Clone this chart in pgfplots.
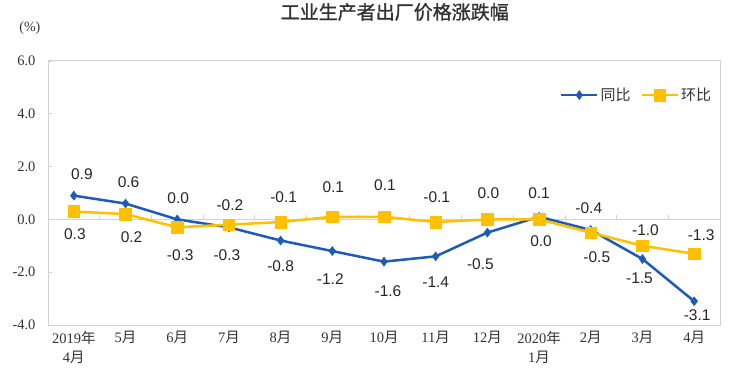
\documentclass[border=0pt]{standalone}
\usepackage{fontspec}
\setmainfont{Liberation Serif}
\newfontfamily\cjk{Noto Sans CJK SC}
\newfontfamily\cjkt{Noto Sans CJK SC}[FakeBold=1.2]
\newfontfamily\lab{Liberation Sans}
\usepackage{pgfplots}
\usepackage{pgfplotstable}
\pgfplotsset{compat=1.18}
\definecolor{blueline}{RGB}{28,92,184}
\definecolor{yelline}{RGB}{255,192,0}
\definecolor{frame}{RGB}{210,210,210}
\newcommand{\Y}{{\cjk 年}}
\newcommand{\M}{{\cjk 月}}
\pgfplotstableread{
x yoy ydy ydx mom mdy mdx
0 0.9 21 8 0.3 -23 1
1 0.6 21 3 0.2 -23 6
2 0.0 21 1 -0.3 -28 3
3 -0.3 -28 -2 -0.2 20 1
4 -0.8 -26 0 -0.1 25 3
5 -1.2 -28 -2 0.1 30 1
6 -1.6 -30 4 0.1 32 1
7 -1.4 -26 0 -0.1 25 1
8 -0.5 -32 -7 0.0 26 1
9 0.1 24 0 0.0 -22 2
10 -0.4 22 -2 -0.5 -25 6
11 -1.5 -19 -3 -1.0 16 3
12 -3.1 -14 3 -1.3 19 7
}\data
\begin{document}
\begin{tikzpicture}
\useasboundingbox (0,0) rectangle (733pt,378pt);
\begin{axis}[
  at={(48pt,53pt)}, anchor=south west,
  scale only axis, width=672pt, height=264pt,
  xmin=-0.5, xmax=12.5, ymin=-4, ymax=6,
  ytick={-4,-2,0,2,4,6},
  xtick={0,...,12},
  xticklabels={2019\Y\\4\M, 5\M, 6\M, 7\M, 8\M, 9\M, 10\M, 11\M, 12\M, 2020\Y\\1\M, 2\M, 3\M, 4\M},
  xticklabel style={align=center, font=\fontsize{14.5}{19}\selectfont, text=black!80, yshift=-3pt},
  yticklabel style={font=\fontsize{14.5}{16}\selectfont, text=black!80, xshift=-9pt},
  /pgf/number format/.cd, fixed, precision=1, zerofill, assume math mode=true, /pgfplots/.cd,
  axis line style={frame, line width=1pt},
  xtick style={draw=none},
  ytick style={frame, line width=0.8pt},
  tick pos=left, tick align=inside, major tick length=4pt,
  extra y ticks={0}, extra y tick labels={},
  extra y tick style={grid=major, major grid style={frame, line width=1.4pt}},
  ylabel={(\%)},
  ylabel style={rotate=-90, at={(rel axis cs:-0.027,1.125)}, anchor=center, font=\fontsize{14}{16}\selectfont, text=black!80},
  title={\cjkt 工业生产者出厂价格涨跌幅},
  title style={at={(0.516,1.163)}, anchor=center, font=\fontsize{19}{22}\selectfont, text=black!80},
  clip=false,
  legend style={at={(0.99,0.871)}, anchor=east, draw=none, fill=none, font=\fontsize{15}{17}\selectfont\cjk, text=black!80,
    /tikz/every even column/.append style={column sep=8pt}, inner sep=0pt, nodes={inner sep=2pt}},
  legend columns=2,
  legend image code/.code={\draw[mark repeat=2,mark phase=2] plot coordinates {(0pt,0pt)(18pt,0pt)(36pt,0pt)};},
  nodes near coords style={font=\fontsize{15.5}{17}\selectfont\lab, text=black!85, anchor=center},
]
\pgfplotsinvokeforeach{0.5,1.5,2.5,3.5,4.5,5.5,6.5,7.5,8.5,9.5,10.5,11.5}{
  \draw[frame, line width=0.8pt] (axis cs:#1,0) -- ++(0pt,4pt);
}
\addplot[blueline, line width=2.5pt, mark=diamond*, mark size=4.5pt, mark options={solid, fill=blueline, draw=blueline, line width=0.5pt},
  nodes near coords,
  visualization depends on={\thisrow{ydy}\as\dy},
  visualization depends on={\thisrow{ydx}\as\dx},
  every node near coord/.append style={yshift=\dy pt, xshift=\dx pt},
] table[x=x, y=yoy] {\data};
\addlegendentry{同比}
\addplot[yelline, line width=2.5pt, mark=square*, mark size=5.8pt, mark options={solid, fill=yelline, draw=yelline, line width=0.5pt},
  nodes near coords,
  visualization depends on={\thisrow{mdy}\as\dy},
  visualization depends on={\thisrow{mdx}\as\dx},
  every node near coord/.append style={yshift=\dy pt, xshift=\dx pt},
] table[x=x, y=mom] {\data};
\addlegendentry{环比}
\end{axis}
\end{tikzpicture}
\end{document}
